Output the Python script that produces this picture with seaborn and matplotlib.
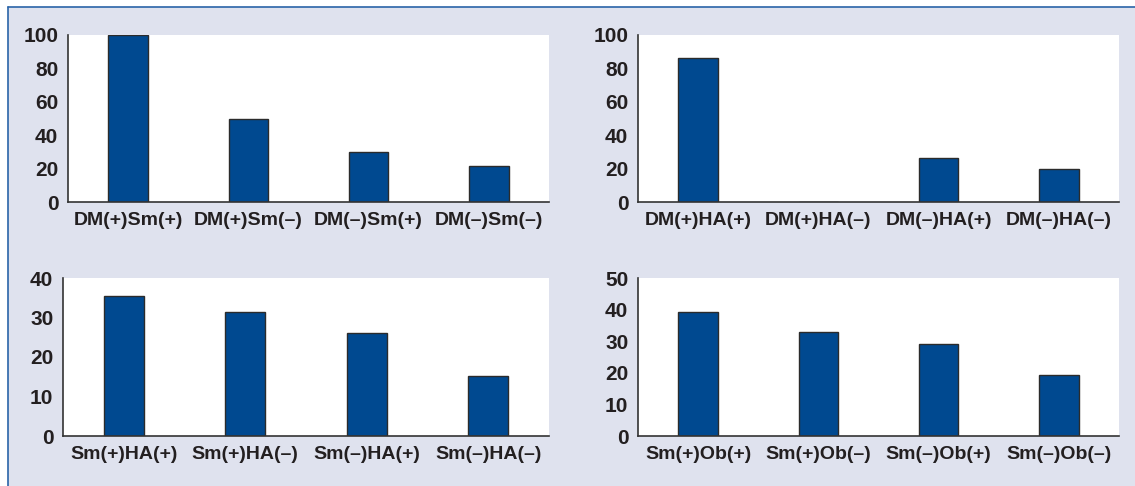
import matplotlib
matplotlib.use("Agg")
import matplotlib.pyplot as plt
from matplotlib.lines import Line2D
import seaborn as sns

# data
dm_sm_labels = ["DM(+)Sm(+)", "DM(+)Sm(–)", "DM(–)Sm(+)", "DM(–)Sm(–)"]
dm_sm_values = [100, 49.5, 30, 21.5]

dm_ha_labels = ["DM(+)HA(+)", "DM(+)HA(–)", "DM(–)HA(+)", "DM(–)HA(–)"]
dm_ha_values = [86, 0, 26.5, 19.5]

sm_ha_labels = ["Sm(+)HA(+)", "Sm(+)HA(–)", "Sm(–)HA(+)", "Sm(–)HA(–)"]
sm_ha_values = [35.5, 31.5, 26, 15.3]

sm_ob_labels = ["Sm(+)Ob(+)", "Sm(+)Ob(–)", "Sm(–)Ob(+)", "Sm(–)Ob(–)"]
sm_ob_values = [39.3, 32.8, 29, 19.2]

sns.set_style("white")
plt.rcParams['font.family'] = ['Liberation Sans Narrow', 'Liberation Sans', 'DejaVu Sans']

BG = "#dfe2ee"
BAR = "#004990"
W, H = 1135, 486

fig = plt.figure(figsize=(W / 100, H / 100), dpi=100)
fig.patch.set_facecolor("white")

# lavender panel with blue frame on top and left
fig.add_artist(plt.Rectangle((8 / W, 0), 1, 1 - 7 / H, transform=fig.transFigure,
                             facecolor=BG, edgecolor="none", zorder=0))
fig.add_artist(Line2D([8 / W, 1], [1 - 7 / H, 1 - 7 / H], transform=fig.transFigure,
                      color="#2a64a8", lw=1.2))
fig.add_artist(Line2D([8 / W, 8 / W], [0, 1 - 7 / H], transform=fig.transFigure,
                      color="#2a64a8", lw=1.2))


def panel(box, labels, values, ymax, step):
    l, t, r, b = box
    ax = fig.add_axes([l / W, 1 - b / H, (r - l) / W, (b - t) / H])
    sns.barplot(x=labels, y=values, ax=ax, color=BAR, width=0.33,
                edgecolor="#2b2b2b", linewidth=1.0, saturation=1)
    ax.set_facecolor("white")
    ax.set_xlim(-0.5, len(labels) - 0.5)
    ax.set_ylim(0, ymax)
    ax.set_yticks(range(0, ymax + 1, step))
    ax.set_xticks(range(len(labels)))
    ax.set_xticklabels(labels)
    ax.set_xticks([i - 0.5 for i in range(len(labels) + 1)], minor=True)
    ax.tick_params(axis="x", which="major", length=0, pad=7,
                   labelsize=14, labelcolor="#231f20")
    ax.tick_params(axis="x", which="minor", length=5, width=1, color="#333333",
                   direction="out")
    ax.tick_params(axis="y", length=5, width=1, color="#333333", direction="out",
                   labelsize=15, labelcolor="#231f20", pad=2)
    for lab in ax.get_xticklabels() + ax.get_yticklabels():
        lab.set_fontweight("bold")
    for s in ["top", "right"]:
        ax.spines[s].set_visible(False)
    for s in ["left", "bottom"]:
        ax.spines[s].set_color("#333333")
        ax.spines[s].set_linewidth(1.2)
    ax.set_xlabel("")
    ax.set_ylabel("")
    return ax


panel((68, 35, 549, 202), dm_sm_labels, dm_sm_values, 100, 20)
panel((638, 35, 1119, 202), dm_ha_labels, dm_ha_values, 100, 20)
panel((63, 278, 549, 436), sm_ha_labels, sm_ha_values, 40, 10)
panel((638, 278, 1119, 436), sm_ob_labels, sm_ob_values, 50, 10)

fig.savefig("out.png", dpi=100, facecolor=fig.get_facecolor())
